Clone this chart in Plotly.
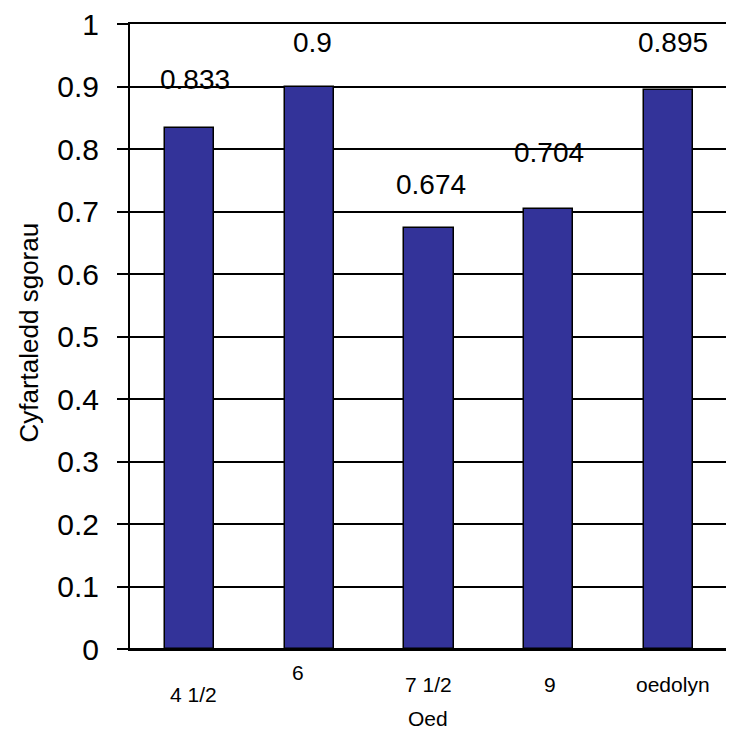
import plotly.graph_objects as go

categories = ["4 1/2", "6", "7 1/2", "9", "oedolyn"]
values = [0.833, 0.9, 0.674, 0.704, 0.895]
value_labels = ["0.833", "0.9", "0.674", "0.704", "0.895"]
y_ticks = [0, 0.1, 0.2, 0.3, 0.4, 0.5, 0.6, 0.7, 0.8, 0.9, 1]
y_tick_labels = ["0", "0.1", "0.2", "0.3", "0.4", "0.5", "0.6", "0.7", "0.8", "0.9", "1"]
x_title = "Oed"
y_title = "Cyfartaledd sgorau"

# style: pixel offsets of the staggered labels
label_xshift = [5, 3, 2, 0.5, 4.5]
label_yshift = [49, 44.5, 43, 57, 47.5]
tick_xshift = [3.5, -11, -0.5, 1.5, 4.5]
tick_yshift = [-45, -23, -35, -35, -35]

FONT = "Arial, Liberation Sans, sans-serif"
x_idx = list(range(len(categories)))

fig = go.Figure()
fig.add_trace(go.Bar(
    x=x_idx, y=values, width=0.41,
    marker=dict(color="#333399", line=dict(color="black", width=1.5)),
))

ann = []
for i, (v, t) in enumerate(zip(values, value_labels)):
    ann.append(dict(x=i, y=v, xref="x", yref="y", text=t, showarrow=False,
                    xshift=label_xshift[i], yshift=label_yshift[i],
                    xanchor="center", yanchor="middle",
                    font=dict(family=FONT, size=28, color="black")))
for i, c in enumerate(categories):
    ann.append(dict(x=i, y=0, xref="x", yref="paper", text=c, showarrow=False,
                    xshift=tick_xshift[i], yshift=tick_yshift[i],
                    xanchor="center", yanchor="middle",
                    font=dict(family=FONT, size=21, color="black")))
ann.append(dict(x=0.4983, y=0, xref="paper", yref="paper", text=x_title, showarrow=False,
                yshift=-69, xanchor="center", yanchor="middle",
                font=dict(family=FONT, size=21, color="black")))
ann.append(dict(x=0, y=0.5, xref="paper", yref="paper", text=y_title, showarrow=False,
                xshift=-102, yshift=4, textangle=-90, xanchor="center", yanchor="middle",
                font=dict(family=FONT, size=26, color="black")))

fig.update_layout(
    width=726, height=725,
    margin=dict(l=122, r=6, t=16, b=84, autoexpand=False),
    paper_bgcolor="white", plot_bgcolor="white",
    showlegend=False,
    bargap=0,
    annotations=ann,
    font=dict(family=FONT, color="black"),
)
fig.update_xaxes(range=[-0.5, 4.5], showticklabels=False, ticks="",
                 showgrid=False, zeroline=False, automargin=False,
                 showline=True, mirror=True, linecolor="black", linewidth=2)
fig.update_yaxes(range=[0, 1], tickvals=y_ticks, ticktext=y_tick_labels,
                 ticks="outside", ticklen=11, tickwidth=2, tickcolor="black",
                 showgrid=True, gridcolor="black", gridwidth=2,
                 zeroline=True, zerolinecolor="black", zerolinewidth=2,
                 showline=True, linecolor="black", linewidth=2, automargin=False,
                 tickfont=dict(family=FONT, size=30, color="black"),
                 ticklabelstandoff=12, ticklabeloverflow="allow")
fig.write_html("out.html")
